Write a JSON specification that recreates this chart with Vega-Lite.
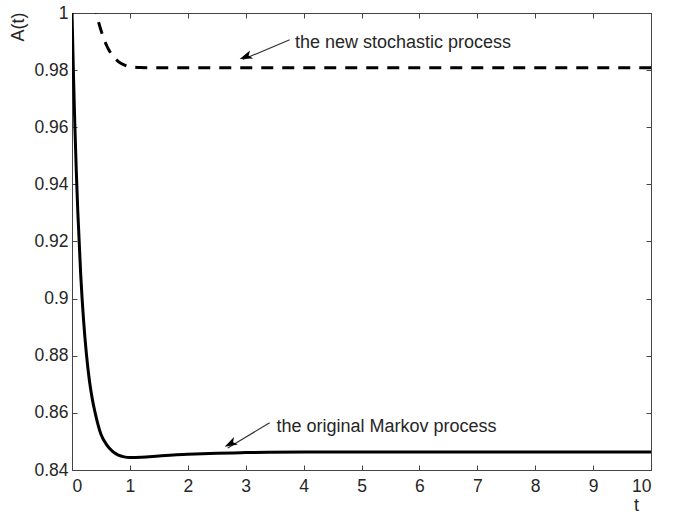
{
  "$schema": "https://vega.github.io/schema/vega-lite/v6.json",
  "width": 579,
  "height": 457,
  "autosize": {"type": "none"},
  "padding": {"left": 72, "top": 13, "right": 26, "bottom": 45},
  "background": "white",
  "config": {
    "view": {"stroke": "#444", "strokeWidth": 1},
    "font": "Liberation Sans",
    "axis": {
      "grid": false,
      "labelFont": "Liberation Sans",
      "labelFontSize": 17.5,
      "labelColor": "#262626",
      "domainColor": "#444",
      "tickColor": "#444",
      "tickSize": -5,
      "titleFont": "Liberation Sans",
      "titleFontSize": 18,
      "titleFontWeight": "normal",
      "titleColor": "#262626"
    }
  },
  "datasets": {
    "markov": [
      {"t": 0, "A": 1.0},
      {"t": 0.025, "A": 0.9785},
      {"t": 0.05, "A": 0.9601},
      {"t": 0.075, "A": 0.9442},
      {"t": 0.1, "A": 0.9306},
      {"t": 0.15, "A": 0.9086},
      {"t": 0.2, "A": 0.8924},
      {"t": 0.25, "A": 0.8804},
      {"t": 0.3, "A": 0.8714},
      {"t": 0.35, "A": 0.8649},
      {"t": 0.4, "A": 0.86},
      {"t": 0.5, "A": 0.8525},
      {"t": 0.6, "A": 0.8488},
      {"t": 0.7, "A": 0.8465},
      {"t": 0.8, "A": 0.8452},
      {"t": 0.9, "A": 0.8446},
      {"t": 1.0, "A": 0.8444},
      {"t": 1.2, "A": 0.8445},
      {"t": 1.5, "A": 0.8449},
      {"t": 2.0, "A": 0.8455},
      {"t": 2.5, "A": 0.8459},
      {"t": 3.0, "A": 0.8461},
      {"t": 4.0, "A": 0.8463},
      {"t": 10, "A": 0.8463}
    ],
    "stochastic": [
      {"t": 0.38, "A": 1.004},
      {"t": 0.42, "A": 1.0},
      {"t": 0.5, "A": 0.994},
      {"t": 0.594, "A": 0.9888},
      {"t": 0.68, "A": 0.9856},
      {"t": 0.767, "A": 0.9836},
      {"t": 0.85, "A": 0.9823},
      {"t": 0.94, "A": 0.9815},
      {"t": 1.05, "A": 0.9811},
      {"t": 1.17, "A": 0.9809},
      {"t": 1.5, "A": 0.9808},
      {"t": 10, "A": 0.9808}
    ],
    "arrows": [
      {"t": 3.76, "A": 0.99065, "t2": 2.95, "A2": 0.9837, "tipT": 2.896, "tipA": 0.98389, "ang": 249},
      {"t": 3.414, "A": 0.85656, "t2": 2.69, "A2": 0.8477, "tipT": 2.637, "tipA": 0.84816, "ang": 242}
    ],
    "labels": [
      {"t": 3.85, "A": 0.98775, "label": "the new stochastic process"},
      {"t": 3.53, "A": 0.85331, "label": "the original Markov process"}
    ]
  },
  "layer": [
    {
      "data": {"name": "markov"},
      "mark": {"type": "line", "color": "black", "strokeWidth": 3, "clip": true, "interpolate": "monotone"},
      "encoding": {
        "x": {
          "field": "t", "type": "quantitative",
          "scale": {"domain": [0, 10], "nice": false},
          "axis": {"values": [0,1,2,3,4,5,6,7,8,9,10], "labelPadding": 12, "title": "t",
                   "titleAnchor": "end", "titleX": 564, "titleY": 40, "titleAlign": "center", "titleBaseline": "alphabetic"}
        },
        "y": {
          "field": "A", "type": "quantitative",
          "scale": {"domain": [0.84, 1], "nice": false, "zero": false},
          "axis": {"values": [0.84,0.86,0.88,0.9,0.92,0.94,0.96,0.98,1], "format": "~g", "labelPadding": 9,
                   "title": "A(t)", "titleX": -54, "titleY": -1, "titleAngle": -90, "titleAlign": "right", "titleBaseline": "middle"}
        }
      }
    },
    {
      "data": {"name": "markov"},
      "mark": {"type": "line", "opacity": 0},
      "encoding": {
        "x": {"field": "t", "type": "quantitative",
              "axis": {"orient": "top", "labels": false, "title": null, "values": [0,1,2,3,4,5,6,7,8,9,10]}},
        "y": {"field": "A", "type": "quantitative",
              "axis": {"orient": "right", "labels": false, "title": null, "values": [0.84,0.86,0.88,0.9,0.92,0.94,0.96,0.98,1]}}
      }
    },
    {
      "data": {"name": "stochastic"},
      "mark": {"type": "line", "color": "black", "strokeWidth": 3, "strokeDash": [12, 9], "clip": true, "interpolate": "monotone"},
      "encoding": {
        "x": {"field": "t", "type": "quantitative", "axis": null},
        "y": {"field": "A", "type": "quantitative", "axis": null}
      }
    },
    {
      "data": {"name": "arrows"},
      "mark": {"type": "rule", "color": "#333", "strokeWidth": 1.2},
      "encoding": {
        "x": {"field": "t", "type": "quantitative", "axis": null},
        "y": {"field": "A", "type": "quantitative", "axis": null},
        "x2": {"field": "t2"},
        "y2": {"field": "A2"}
      }
    },
    {
      "data": {"name": "arrows"},
      "mark": {"type": "point", "filled": true, "color": "black", "opacity": 1,
               "shape": "M0,0 L0.6,1.8 L0,1.35 L-0.6,1.8 Z", "size": 200, "strokeWidth": 0},
      "encoding": {
        "x": {"field": "tipT", "type": "quantitative", "axis": null},
        "y": {"field": "tipA", "type": "quantitative", "axis": null},
        "angle": {"field": "ang", "type": "quantitative", "scale": null}
      }
    },
    {
      "data": {"name": "labels"},
      "mark": {"type": "text", "align": "left", "baseline": "alphabetic", "font": "Liberation Sans", "fontSize": 18, "color": "#262626"},
      "encoding": {
        "x": {"field": "t", "type": "quantitative", "axis": null},
        "y": {"field": "A", "type": "quantitative", "axis": null},
        "text": {"field": "label"}
      }
    }
  ],
  "resolve": {"axis": {"x": "independent", "y": "independent"}}
}
